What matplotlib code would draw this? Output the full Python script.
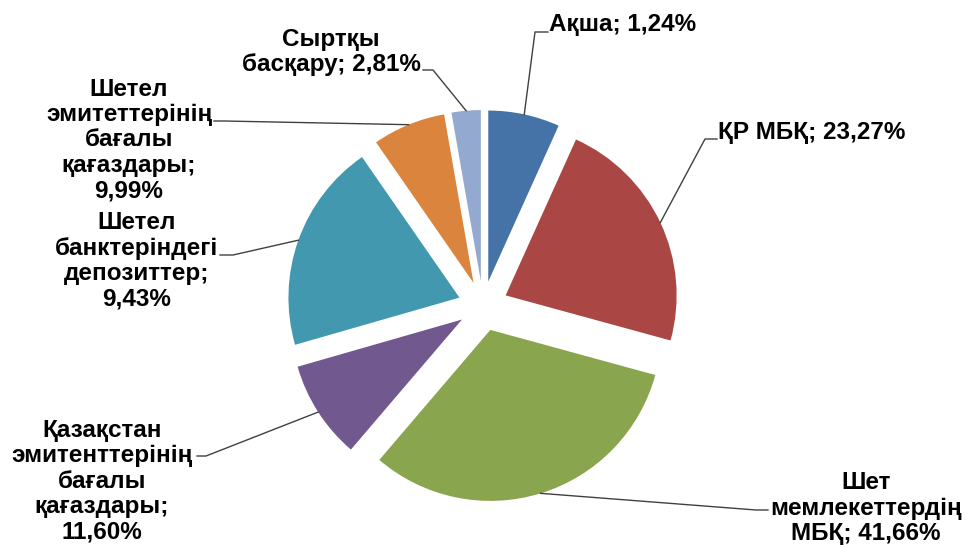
# -*- coding: utf-8 -*-
import numpy as np
import matplotlib
matplotlib.use("Agg")
import matplotlib.pyplot as plt

W, H = 966, 547

values = [6.75, 22.5, 32.0, 9.3, 19.8, 6.9, 2.75]
labels = [
    "Ақша; 1,24%",
    "ҚР МБҚ; 23,27%",
    "Шет\nмемлекеттердің\nМБҚ; 41,66%",
    "Қазақстан\nэмитенттерінің\nбағалы\nқағаздары;\n11,60%",
    "Шетел\nбанктеріндегі\nдепозиттер;\n9,43%",
    "Шетел\nэмитеттерінің\nбағалы\nқағаздары;\n9,99%",
    "Сыртқы\nбасқару; 2,81%",
]
colors = ["#4572A7", "#AA4643", "#89A54E", "#71588F", "#4198AF", "#DB843D", "#93A9CF"]

# label layout in picture pixels (x, y from top), alignment, leader start/elbow
label_pos = [(549, 25), (718, 132), (866, 508), (102, 481), (137, 261), (129, 140), (331, 52)]
label_ha = ["left", "left", "center", "center", "center", "center", "center"]
leader = [
    [(548, 32), (535, 32)],
    [(717, 139), (705, 139)],
    [(768, 510), (756, 510)],
    [(197, 456), (206, 456)],
    [(220, 255), (233, 255)],
    [(214, 121), (224, 121)],
    [(423, 70), (433, 70)],
]


def fy(y):
    return H - y


fig = plt.figure(figsize=(W / 100, H / 100), dpi=100)
ax = fig.add_axes([0, 0, 1, 1])

radius = 171
wedges, _ = ax.pie(values, explode=[25] * len(values), colors=colors,
                   startangle=90, counterclock=False, radius=radius,
                   center=(483, fy(306)), wedgeprops=dict(linewidth=0))
ax.set_xlim(0, W)
ax.set_ylim(0, H)
ax.set_aspect("equal")
ax.axis("off")

for i, w in enumerate(wedges):
    mid = np.deg2rad((w.theta1 + w.theta2) / 2)
    cx, cy = w.center
    px, py = cx + w.r * np.cos(mid), cy + w.r * np.sin(mid)
    xs = [p[0] for p in leader[i]] + [px]
    ys = [fy(p[1]) for p in leader[i]] + [py]
    ax.plot(xs, ys, color="#404040", lw=1.0)
    x, y = label_pos[i]
    ax.text(x, fy(y), labels[i], ha=label_ha[i], va="center", multialignment="center",
            fontsize=17.5, fontweight="bold", family="Liberation Sans", linespacing=1.13,
            color="#000000")

fig.savefig("out.png", dpi=100)
